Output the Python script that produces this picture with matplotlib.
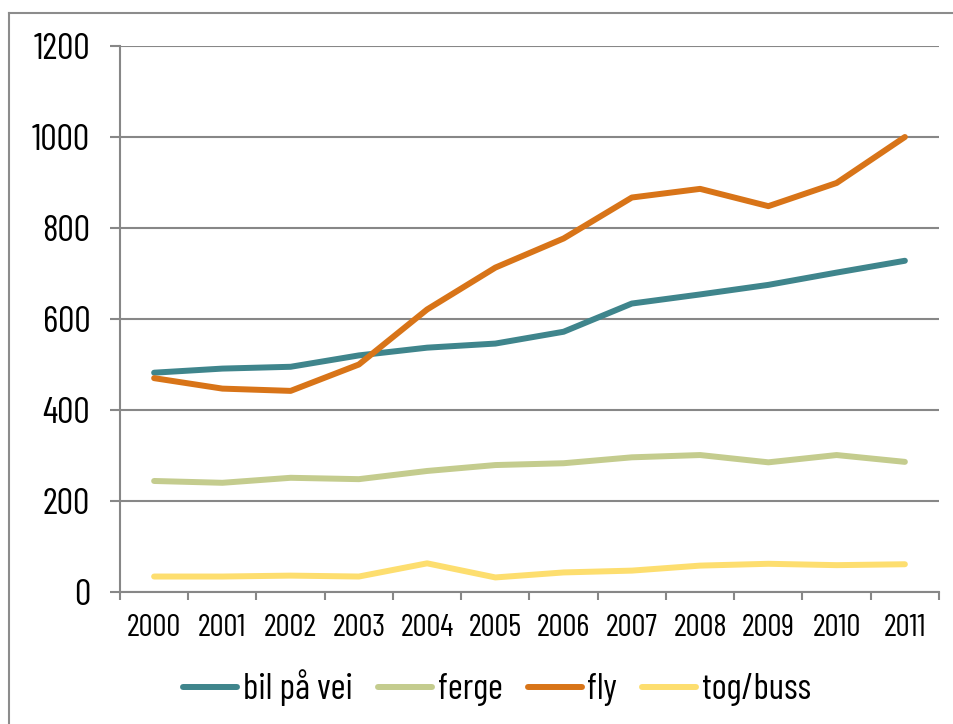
import matplotlib
matplotlib.use("Agg")
import matplotlib.pyplot as plt
from matplotlib.lines import Line2D

# ── Data ──
YEARS = ["2000", "2001", "2002", "2003", "2004", "2005",
         "2006", "2007", "2008", "2009", "2010", "2011"]
BIL = [482, 491, 495, 520, 537, 546, 572, 634, 654, 675, 702, 728]
FERGE = [244, 240, 251, 248, 266, 279, 283, 296, 301, 285, 301, 286]
FLY = [470, 447, 442, 500, 621, 713, 777, 867, 886, 848, 899, 1000]
TOG = [34, 34, 36, 34, 63, 32, 43, 47, 58, 62, 59, 61]

SERIES = ["bil på vei", "ferge", "fly", "tog/buss"]
COLORS = ["#3F858C", "#C4CC8E", "#D87418", "#FDDE6F"]
Y_TICKS = [0, 200, 400, 600, 800, 1000, 1200]

# narrow sans, close to the condensed face of the original
plt.rcParams["font.family"] = ["Barlow Condensed", "Roboto Condensed", "DejaVu Sans"]

W, H = 954, 724
fig = plt.figure(figsize=(W / 100, H / 100), dpi=100)
ax = fig.add_axes([120 / W, 1 - 592 / H, (939 - 120) / W, (592 - 46) / H])

x = range(len(YEARS))
for vals, name, col in zip([BIL, FERGE, FLY, TOG], SERIES, COLORS):
    ax.plot(x, vals, color=col, lw=4.3, solid_capstyle="round",
            solid_joinstyle="round", label=name, zorder=3)

grid_col = "#878787"
ax.set_xlim(-0.5, len(YEARS) - 0.5)
ax.set_ylim(0, 1200)
ax.set_yticks(Y_TICKS)
ax.set_yticklabels([str(v) for v in Y_TICKS], fontsize=26.5)
ax.yaxis.grid(True, color=grid_col, lw=1.5)
ax.set_axisbelow(True)

# category labels at centres, tick marks on boundaries
ax.set_xticks(list(x))
ax.set_xticklabels(YEARS, fontsize=22.5)
ax.set_xticks([i - 0.5 for i in range(len(YEARS) + 1)], minor=True)
ax.tick_params(axis="x", which="major", length=0, pad=16)
ax.tick_params(axis="x", which="minor", length=6, width=1.5, color=grid_col,
               direction="out")
ax.tick_params(axis="y", length=7.5, width=1.5, color=grid_col, pad=14)

for side in ["top", "right"]:
    ax.spines[side].set_visible(False)
for side in ["left", "bottom"]:
    ax.spines[side].set_color(grid_col)
    ax.spines[side].set_linewidth(1.5)

# legend below the plot
handles = [Line2D([0], [0], color=c, lw=4.3, solid_capstyle="round") for c in COLORS]
fig.legend(handles, SERIES, loc="center", bbox_to_anchor=(497 / W, 1 - 688 / H),
           ncol=4, frameon=False, fontsize=26, handlelength=1.5,
           handletextpad=0.15, columnspacing=0.7)

# outer chart-area border (left and top visible)
fig.add_artist(Line2D([9 / W, 9 / W], [0, 1 - 13 / H], transform=fig.transFigure,
                      color="#8C8C8C", lw=1.5))
fig.add_artist(Line2D([9 / W, 1], [1 - 13 / H, 1 - 13 / H], transform=fig.transFigure,
                      color="#8C8C8C", lw=1.5))

fig.savefig("out.png", dpi=100)
